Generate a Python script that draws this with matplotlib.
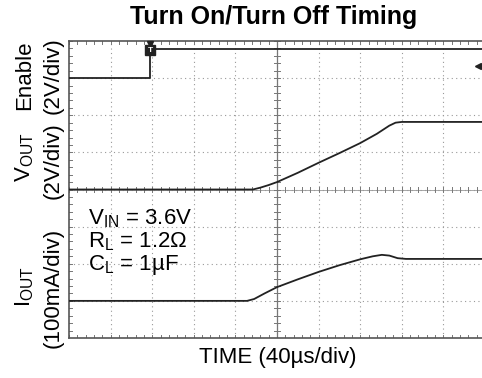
import matplotlib
matplotlib.use("Agg")
import matplotlib.pyplot as plt
import numpy as np

plt.rcParams['font.family'] = ['Liberation Sans', 'DejaVu Sans']
plt.rcParams['mathtext.fontset'] = 'custom'
plt.rcParams['mathtext.rm'] = 'Liberation Sans'
plt.rcParams['mathtext.it'] = 'Liberation Sans'

# traces in scope divisions (x: 0..10 div, y: 0..8 div)
enable_t = [0, 1.95, 1.95, 10.2]
enable_v = [7.0, 7.0, 7.78, 7.78]

vout_t = [0, 4.42, 4.6, 4.8, 5.0, 5.5, 6.0, 6.5, 7.0, 7.4, 7.7, 7.85, 8.0, 10.2]
vout_v = [4.0, 4.0, 4.05, 4.12, 4.2, 4.45, 4.72, 4.98, 5.25, 5.5, 5.72, 5.8, 5.82, 5.82]

iout_t = [0, 4.28, 4.45, 4.7, 5.0, 5.5, 6.0, 6.5, 7.0, 7.3, 7.52, 7.7, 7.9, 8.1, 10.2]
iout_v = [1.0, 1.0, 1.05, 1.2, 1.37, 1.58, 1.78, 1.96, 2.12, 2.2, 2.24, 2.22, 2.15, 2.13, 2.13]

W, H = 482, 378
fig = plt.figure(figsize=(W / 100, H / 100), dpi=100)
ax = fig.add_axes([69 / W, 1 - 338 / H, 416 / W, 297 / H])
ax.set_xlim(0, 10)
ax.set_ylim(0, 8)
ax.set_xticks([])
ax.set_yticks([])
ax.spines['right'].set_visible(False)
for s in ['left', 'top', 'bottom']:
    ax.spines[s].set_color('#555555')
    ax.spines[s].set_linewidth(1.2)

# scope graticule
grid_col = '#999999'
for i in range(1, 10):
    ax.axvline(i, color=grid_col, lw=0.8, ls=(0, (1, 3)), zorder=1)
for j in range(1, 8):
    ax.axhline(j, color=grid_col, lw=0.8, ls=(0, (1, 3)), zorder=1)
ax.axvline(5, color='#777777', lw=0.9, zorder=1)
ax.axhline(4, color='#999999', lw=0.6, zorder=1)
for x in np.arange(0, 10.01, 0.2):
    ax.plot([x, x], [3.93, 4.07], color='#777777', lw=0.7, zorder=1)
    ax.plot([x, x], [0, 0.07], color='#777777', lw=0.7, zorder=1)
    ax.plot([x, x], [7.93, 8], color='#777777', lw=0.7, zorder=1)
for y in np.arange(0, 8.01, 0.2):
    ax.plot([4.93, 5.07], [y, y], color='#777777', lw=0.7, zorder=1)
    ax.plot([0, 0.07], [y, y], color='#777777', lw=0.7, zorder=1)

trace_col = '#222222'
ax.plot(enable_t, enable_v, color=trace_col, lw=1.3, zorder=3, clip_on=True)
ax.plot(vout_t, vout_v, color=trace_col, lw=1.3, zorder=3)
ax.plot(iout_t, iout_v, color=trace_col, lw=1.3, zorder=3)

# trigger marker and level arrow
ax.plot([1.95], [7.93], marker='v', color='#222222', ms=5, clip_on=False, zorder=4)
ax.plot([1.95], [7.75], marker='s', color='#222222', ms=7, zorder=4)
ax.text(1.95, 7.75, 'T', color='white', fontsize=6, fontweight='bold',
        ha='center', va='center', zorder=5)
ax.plot([9.83], [7.33], marker='<', color='#222222', ms=5, zorder=4)

# annotations
ax.text(0.45, 4 - (218 - 189) / 37.1, r'$\mathregular{V_{IN}}$ = 3.6V', fontsize=16, va='center')
ax.text(0.45, 4 - (241 - 189) / 37.1, r'$\mathregular{R_{L}}$ = 1.2Ω', fontsize=16, va='center')
ax.text(0.45, 4 - (264 - 189) / 37.1, r'$\mathregular{C_{L}}$ = 1µF', fontsize=16, va='center')

fig.text(274 / W, 1 - 17 / H, 'Turn On/Turn Off Timing', fontsize=18, fontweight='bold',
         ha='center', va='center')
fig.text(278 / W, 1 - 358 / H, 'TIME (40µs/div)', fontsize=16, ha='center', va='center')

fig.text(25 / W, 1 - 75 / H, 'Enable', fontsize=16, rotation=90, ha='center', va='center')
fig.text(53 / W, 1 - 76 / H, '(2V/div)', fontsize=16, rotation=90, ha='center', va='center')
fig.text(25 / W, 1 - 157 / H, r'$\mathregular{V_{OUT}}$', fontsize=16, rotation=90, ha='center', va='center')
fig.text(53 / W, 1 - 161 / H, '(2V/div)', fontsize=16, rotation=90, ha='center', va='center')
fig.text(25 / W, 1 - 287 / H, r'$\mathregular{I_{OUT}}$', fontsize=16, rotation=90, ha='center', va='center')
fig.text(53 / W, 1 - 288 / H, '(100mA/div)', fontsize=16, rotation=90, ha='center', va='center')

fig.savefig('out.png', dpi=100)
